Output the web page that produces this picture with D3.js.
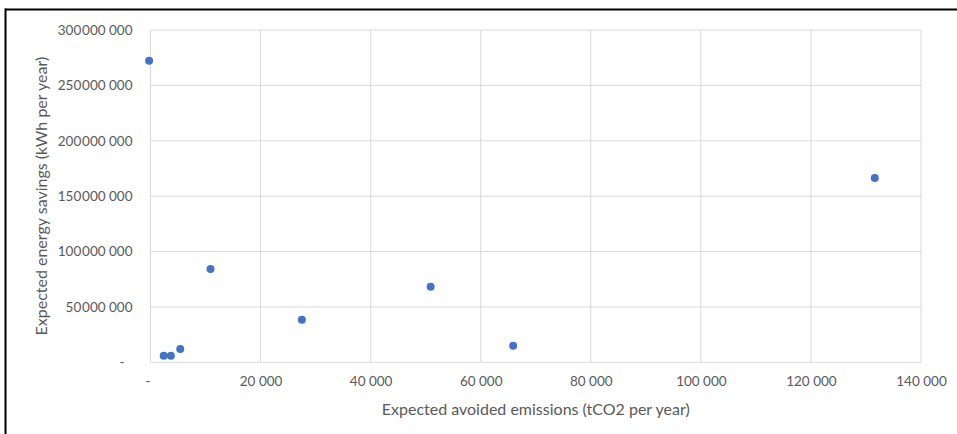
<!DOCTYPE html>
<html>
<head>
<meta charset="utf-8">
<script src="https://cdn.jsdelivr.net/npm/d3@7"></script>
<style>
  html, body { margin: 0; padding: 0; background: #ffffff; }
  svg { display: block; }
  text { font-family: Lato, "Open Sans", "Liberation Sans", sans-serif; fill: #595959; }
</style>
</head>
<body>
<svg id="chart" width="957" height="434"></svg>
<script>
// Expected avoided emissions (tCO2 per year) per measure
const avoidedEmissions = [-250, 2400, 3700, 5400, 10900, 27500, 50900, 65900, 131600];
// Expected energy savings (kWh per year) per measure
const energySavings = [272300000, 6000000, 6000000, 12000000, 84300000, 38500000, 68300000, 15000000, 166300000];

const xTicks = [0, 20000, 40000, 60000, 80000, 100000, 120000, 140000];
const xTickLabels = ["-", "20 000", "40 000", "60 000", "80 000", "100 000", "120 000", "140 000"];
const yTicks = [0, 50000000, 100000000, 150000000, 200000000, 250000000, 300000000];
const yTickLabels = ["-", "50\u200a000 000", "100\u200a000 000", "150\u200a000 000", "200\u200a000 000", "250\u200a000 000", "300\u200a000 000"];

const xTitle = "Expected avoided emissions (tCO2 per year)";
const yTitle = "Expected energy savings (kWh per year)";

const svg = d3.select("#chart");
const plot = { left: 150.5, right: 921, top: 30, bottom: 362.3 };

const x = d3.scaleLinear().domain([0, 140000]).range([plot.left, plot.right]);
const y = d3.scaleLinear().domain([0, 300000000]).range([plot.bottom, plot.top]);

// Frame lines (top and left edges)
svg.append("line").attr("x1", 5).attr("x2", 957).attr("y1", 9.5).attr("y2", 9.5)
  .attr("stroke", "#000").attr("stroke-width", 2);
svg.append("line").attr("x1", 5.5).attr("x2", 5.5).attr("y1", 8.5).attr("y2", 434)
  .attr("stroke", "#000").attr("stroke-width", 2);

// Gridlines
const grid = svg.append("g").attr("stroke", "#d9d9d9").attr("stroke-width", 1);
grid.selectAll("line.v").data(xTicks).join("line").attr("class", "v")
  .attr("x1", d => x(d)).attr("x2", d => x(d))
  .attr("y1", plot.top).attr("y2", plot.bottom);
grid.selectAll("line.h").data(yTicks).join("line").attr("class", "h")
  .attr("x1", plot.left).attr("x2", plot.right)
  .attr("y1", d => y(d)).attr("y2", d => y(d));

// Axes (labels only; lines are covered by the grid)
const xAxis = d3.axisBottom(x).tickValues(xTicks).tickSize(0).tickPadding(0)
  .tickFormat((d, i) => xTickLabels[i]);
const gx = svg.append("g").attr("transform", `translate(0,${plot.bottom + 14})`).call(xAxis);
gx.select(".domain").remove();
gx.selectAll("text").attr("font-size", 13.5).attr("fill", "#595959")
  .style("font-family", "Lato, 'Open Sans', sans-serif").attr("dy", "0.71em");
gx.selectAll(".tick").filter((d, i) => i === 0).select("text").attr("dx", -3);

const yAxis = d3.axisLeft(y).tickValues(yTicks).tickSize(0).tickPadding(0)
  .tickFormat((d, i) => yTickLabels[i]);
const gy = svg.append("g").attr("transform", `translate(${plot.left - 18},0)`).call(yAxis);
gy.select(".domain").remove();
gy.selectAll("text").attr("font-size", 13.5).attr("fill", "#595959")
  .style("font-family", "Lato, 'Open Sans', sans-serif");
gy.selectAll(".tick").filter((d, i) => i === 0).select("text").attr("dx", -8);

// Points
svg.append("g").selectAll("circle").data(avoidedEmissions).join("circle")
  .attr("cx", d => x(d))
  .attr("cy", (d, i) => y(energySavings[i]))
  .attr("r", 4)
  .attr("fill", "#4472c4");

// Axis titles
svg.append("text").attr("x", (plot.left + plot.right) / 2).attr("y", 414.5)
  .attr("text-anchor", "middle").attr("font-size", 16).text(xTitle);
svg.append("text")
  .attr("transform", `translate(47,${(plot.top + plot.bottom) / 2}) rotate(-90)`)
  .attr("text-anchor", "middle").attr("font-size", 16).text(yTitle);
</script>
</body>
</html>
